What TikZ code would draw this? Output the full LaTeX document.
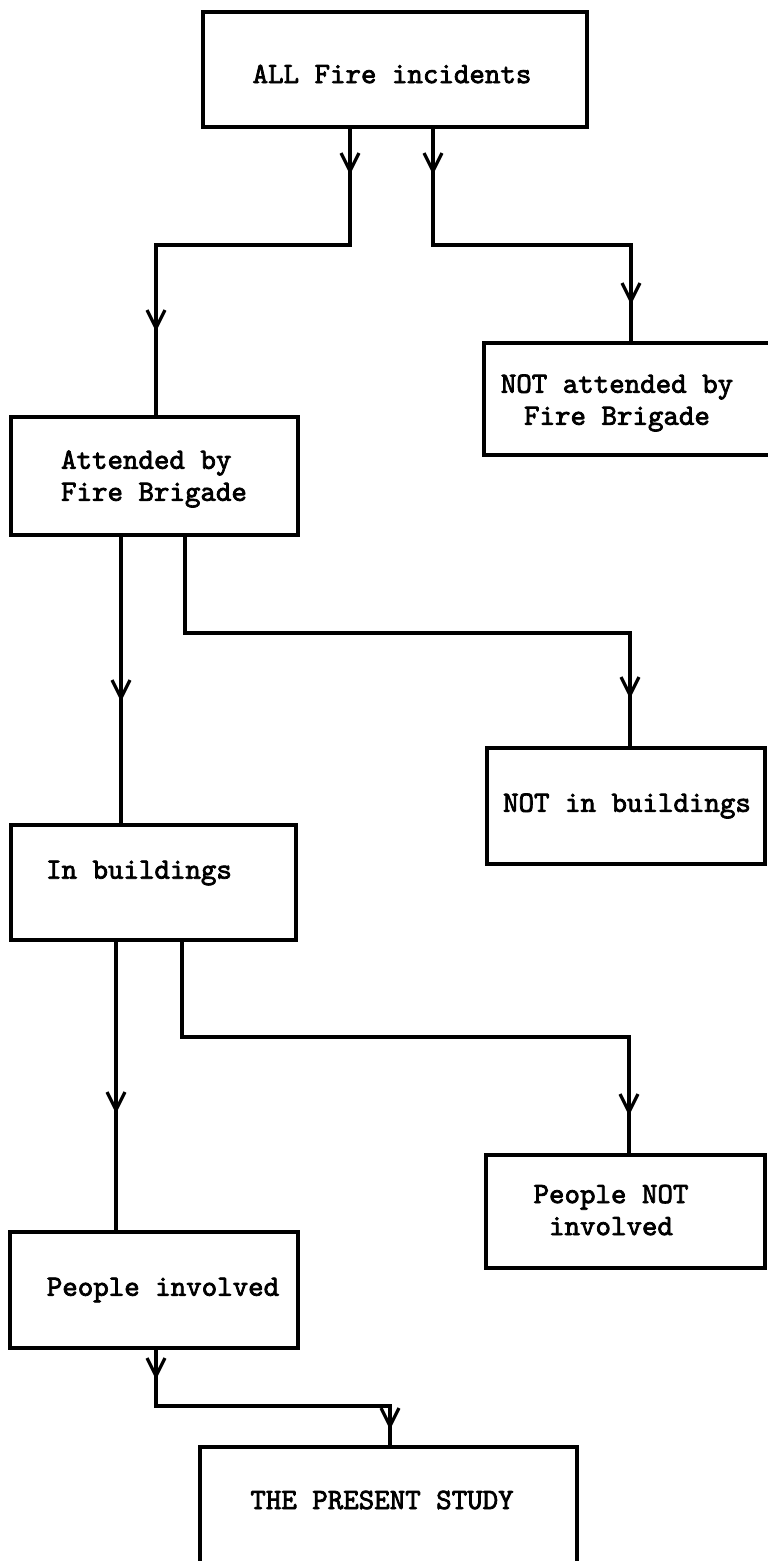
\documentclass[tikz,border=0pt]{standalone}
\usepackage{fontspec}
\newfontfamily\twfont{lmmono10-regular}[Extension=.otf,FakeBold=2.5]
\usetikzlibrary{arrows.meta,decorations.markings}
\tikzset{
  box/.style={draw, line width=1.6pt, inner sep=0pt, rectangle},
  txt/.style={font=\twfont\fontsize{14.75pt}{16pt}\selectfont, inner sep=0pt},
  conn/.style={line width=1.6pt},
  vat/.style={postaction={decorate,decoration={markings,mark=at position #1 with {\arrow{Straight Barb[length=9pt,width=9pt]}}}}},
}
\begin{document}
\begin{tikzpicture}[x=0.5pt,y=-0.5pt]
\useasboundingbox (0,0) rectangle (767,1561);
% boxes
\node[box,minimum width=192pt,minimum height=57.5pt] (b1) at (395,69.5) {};
\node[box,minimum width=145.5pt,minimum height=56pt] (b2) at (629.5,399) {};
\node[box,minimum width=143.5pt,minimum height=59pt] (b3) at (154.5,476) {};
\node[box,minimum width=139pt,minimum height=58pt] (b4) at (626,806) {};
\node[box,minimum width=142.5pt,minimum height=57.5pt] (b5) at (153.5,882.5) {};
\node[box,minimum width=139.5pt,minimum height=56.5pt] (b6) at (625.5,1211.5) {};
\node[box,minimum width=144pt,minimum height=58pt] (b7) at (154,1290) {};
\node[box,minimum width=188.5pt,minimum height=66.5pt] (b8) at (388.5,1513.5) {};
% texts
\node[txt] (t1) at (392,74) {ALL Fire incidents};
\node[txt,align=center] (t2) at (617,403) {NOT attended by\\Fire Brigade};
\node[txt,align=left] (t3) at (154,479) {Attended by\\Fire Brigade};
\node[txt] (t4) at (627,806) {NOT in buildings};
\node[txt] (t5) at (139,873) {In buildings};
\node[txt,align=center] (t6) at (611,1210) {People NOT\\involved};
\node[txt] (t7) at (163,1290) {People involved};
\node[txt] (t8) at (382,1500) {THE PRESENT STUDY};
% connectors
\draw[conn,vat=23pt,vat=198.5pt] (b1.south -| 350,0) |- (156,245) -- (b3.north -| 156,0);
\draw[conn,vat=23pt,vat=187pt] (b1.south -| 433,0) |- (631,245) -- (b2.north -| 631,0);
\draw[conn,vat=82.5pt] (b3.south -| 121,0) -- (b5.north -| 121,0);
\draw[conn,vat=303.5pt] (b3.south -| 185,0) |- (630,633) -- (b4.north -| 630,0);
\draw[conn,vat=86pt] (b5.south -| 116,0) -- (b7.north -| 116,0);
\draw[conn,vat=310.5pt] (b5.south -| 182,0) |- (629,1037) -- (b6.north -| 629,0);
\draw[conn,vat=15pt,vat=157pt] (b7.south -| 156,0) |- (390,1406) -- (b8.north -| 390,0);
\end{tikzpicture}
\end{document}
